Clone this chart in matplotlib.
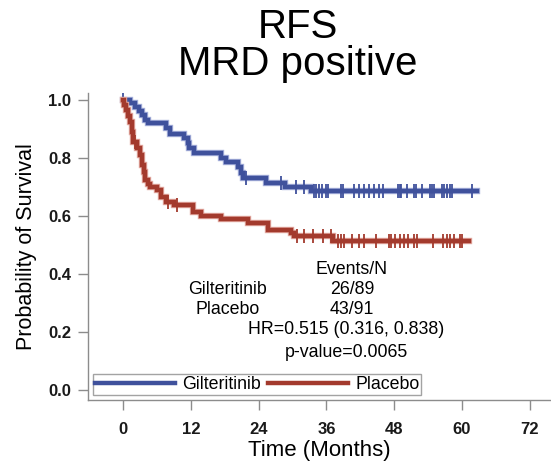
import numpy as np
import matplotlib
matplotlib.use('Agg')
import matplotlib.pyplot as plt
import matplotlib.patheffects as pe

plt.rcParams['font.family'] = ['Liberation Sans', 'DejaVu Sans']

# Kaplan-Meier step data (time in months, survival after each drop)
gilt_times = [0, 1.25, 2.1, 2.7, 3.4, 3.9, 4.3, 7.5, 8.2, 10.7, 11.4, 11.6,
              12.5, 17.3, 18.2, 20.3, 20.8, 21.2, 25.3, 28.6, 33.3]
gilt_surv = [1.0, 0.99, 0.976, 0.962, 0.948, 0.93, 0.92, 0.903, 0.883, 0.869,
             0.852, 0.834, 0.817, 0.80, 0.786, 0.769, 0.748, 0.731, 0.714,
             0.70, 0.686]
gilt_end = 62.7
gilt_censor = [0, 21.7, 28.0, 30.6, 32.0, 33.8, 34.2, 34.7, 35.3, 36.0, 36.3,
               38.6, 39.0, 40.9, 41.8, 42.7, 43.6, 44.5, 45.4, 46.1, 48.6,
               49.0, 49.3, 50.2, 51.5, 51.8, 52.9, 54.3, 54.7, 55.0, 56.4,
               56.8, 57.3, 57.9, 58.2, 61.8]

plac_times = [0, 0.15, 0.4, 0.9, 1.25, 1.6, 1.8, 2.5, 3.0, 3.4, 3.6, 3.9, 4.3,
              4.8, 6.0, 6.6, 7.5, 8.9, 12.3, 13.7, 17.3, 22.1, 25.6, 29.7,
              30.2, 37.2]
plac_surv = [1.0, 0.983, 0.966, 0.945, 0.924, 0.89, 0.855, 0.835, 0.81, 0.776,
             0.752, 0.725, 0.71, 0.70, 0.69, 0.665, 0.648, 0.638, 0.614, 0.60,
             0.59, 0.576, 0.552, 0.541, 0.53, 0.514]
plac_end = 61.2
plac_censor = [2.0, 8.0, 9.6, 30.8, 32.0, 33.6, 35.4, 36.8, 38.0, 38.6, 39.2,
               40.5, 41.8, 42.7, 44.7, 47.0, 47.5, 48.1, 49.0, 49.8, 50.4,
               51.6, 52.1, 54.9, 56.6, 57.3, 57.9, 58.6, 59.6, 60.1]

arms = ['Gilteritinib', 'Placebo']
events_n = ['26/89', '43/91']
hr_text = 'HR=0.515 (0.316, 0.838)'
p_text = 'p-value=0.0065'

blue = '#3f519c'
red = '#a33a2d'


def surv_at(times, surv, t):
    idx = np.searchsorted(times, t, side='right') - 1
    return np.asarray(surv)[idx]


fig = plt.figure(figsize=(5.51, 4.62), dpi=100)
ax = fig.add_axes([0.16, 0.134, 0.839, 0.665])

curves = [(gilt_times, gilt_surv, gilt_end, gilt_censor, blue, '#aab3dd'),
          (plac_times, plac_surv, plac_end, plac_censor, red, '#e3aaa2')]
for (times, surv, end, cens, col, halo), name in zip(curves, arms):
    t = list(times) + [end]
    s = list(surv) + [surv[-1]]
    ax.step(t, s, where='post', color=col, lw=3.2, label=name,
            solid_joinstyle='miter',
            path_effects=[pe.Stroke(linewidth=4.6, foreground=halo),
                          pe.Normal()])
    ax.plot(cens, surv_at(times, surv, cens), ls='none', marker='|',
            ms=10, mew=1.3, color=col)

ax.set_xlim(-6.23, 75.7)
ax.set_ylim(-0.0345, 1.024)
ax.set_xticks([0, 12, 24, 36, 48, 60, 72])
ax.set_yticks([0.0, 0.2, 0.4, 0.6, 0.8, 1.0])
ax.set_yticklabels(['0.0', '0.2', '0.4', '0.6', '0.8', '1.0'])

for side in ['top', 'right']:
    ax.spines[side].set_visible(False)
for side in ['left', 'bottom']:
    ax.spines[side].set_color('#8c8c8c')
    ax.spines[side].set_linewidth(1.0)
ax.tick_params(axis='both', direction='out', length=7, width=1.0,
               color='#8c8c8c', labelsize=12)
ax.tick_params(axis='x', pad=9)
ax.tick_params(axis='y', pad=5)
for lab in ax.get_xticklabels() + ax.get_yticklabels():
    lab.set_fontweight('bold')
    lab.set_color('#1a1a1a')

ax.set_xlabel('Time (Months)', fontsize=16, labelpad=2)
ax.set_ylabel('Probability of Survival', fontsize=15.5, labelpad=8)

# summary table inside the plot
fs = 12.8
ax.text(40.5, 0.414, 'Events/N', ha='center', va='center', fontsize=fs)
ax.text(18.5, 0.345, arms[0], ha='center', va='center', fontsize=fs)
ax.text(40.5, 0.345, events_n[0], ha='center', va='center', fontsize=fs)
ax.text(18.5, 0.276, arms[1], ha='center', va='center', fontsize=fs)
ax.text(40.5, 0.276, events_n[1], ha='center', va='center', fontsize=fs)
ax.text(39.5, 0.207, hr_text, ha='center', va='center', fontsize=fs)
ax.text(39.5, 0.131, p_text, ha='center', va='center', fontsize=fs)

leg = ax.legend(loc='lower left', ncol=2, fontsize=12.8, handlelength=4.5,
                frameon=True, fancybox=False, borderpad=0.1,
                borderaxespad=0.3, columnspacing=0.4, handletextpad=0.4,
                bbox_to_anchor=(0.0, 0.0))
leg.get_frame().set_edgecolor('#8c8c8c')
leg.get_frame().set_linewidth(1.0)
for h in leg.legend_handles:
    h.set_path_effects([])

fig.text(0.541, 0.917, 'RFS', ha='center', va='baseline', fontsize=29)
fig.text(0.541, 0.838, 'MRD positive', ha='center', va='baseline', fontsize=29)

fig.savefig('out.png', dpi=100)
